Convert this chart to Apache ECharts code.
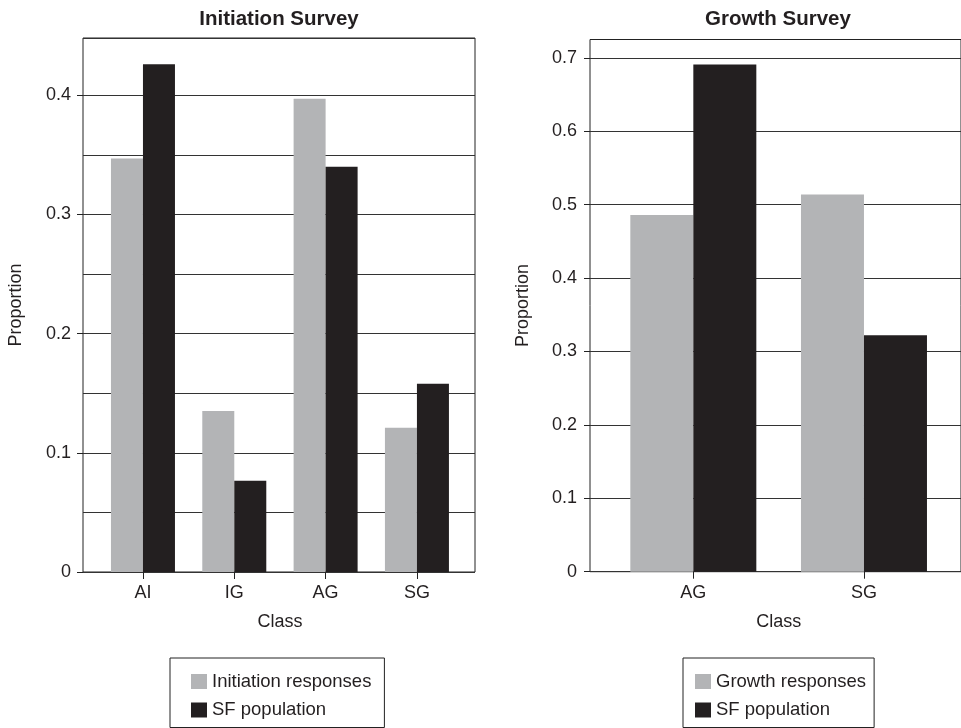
<!DOCTYPE html>
<html>
<head>
<meta charset="utf-8">
<script src="https://cdn.jsdelivr.net/npm/echarts@6/dist/echarts.min.js"></script>
<style>
  html, body { margin: 0; padding: 0; background: #fff; }
  #chart { width: 961px; height: 728px; }
</style>
</head>
<body>
<div id="chart"></div>
<script>
// ---- Data ----
const initiationCategories = ['AI', 'IG', 'AG', 'SG'];
const initiationResponses = [0.347, 0.135, 0.397, 0.121];
const initiationSFPopulation = [0.426, 0.0765, 0.340, 0.158];

const growthCategories = ['AG', 'SG'];
const growthResponses = [0.486, 0.514];
const growthSFPopulation = [0.691, 0.322];

const initiationTicks = [0, 0.1, 0.2, 0.3, 0.4];
const growthTicks = [0, 0.1, 0.2, 0.3, 0.4, 0.5, 0.6, 0.7];

const titles = ['Initiation Survey', 'Growth Survey'];
const xName = 'Class';
const yName = 'Proportion';
const leftLegend = ['Initiation responses', 'SF population'];
const rightLegend = ['Growth responses', 'SF population'];

// ---- Styles ----
const FONT = "'Liberation Sans', Arial, Helvetica, sans-serif";
const GRAY = '#b3b4b6';
const BLACK = '#231f20';
const LINE = '#222';
const fmt = v => (v === 0 ? '0' : v.toFixed(1));

const chart = echarts.init(document.getElementById('chart'), null, { renderer: 'canvas' });

const option = {
  backgroundColor: '#fff',
  animation: false,
  textStyle: { fontFamily: FONT, color: BLACK },
  title: [
    { text: titles[0], left: 279, top: 9, padding: 0, textAlign: 'center',
      textStyle: { fontFamily: FONT, fontSize: 20.5, fontWeight: 'bold', color: BLACK } },
    { text: titles[1], left: 778, top: 9, padding: 0, textAlign: 'center',
      textStyle: { fontFamily: FONT, fontSize: 20.5, fontWeight: 'bold', color: BLACK } }
  ],
  legend: [
    { orient: 'vertical', left: 170, top: 658, data: leftLegend, icon: 'rect',
      itemWidth: 16, itemHeight: 15, itemGap: 9.5, padding: [14, 13, 8, 21],
      borderColor: LINE, borderWidth: 1, selectedMode: false,
      textStyle: { fontFamily: FONT, fontSize: 18.5, color: BLACK } },
    { orient: 'vertical', left: 683, top: 658, data: rightLegend, icon: 'rect',
      itemWidth: 16, itemHeight: 15, itemGap: 9.5, padding: [14, 8, 8, 12],
      borderColor: LINE, borderWidth: 1, selectedMode: false,
      textStyle: { fontFamily: FONT, fontSize: 18.5, color: BLACK } }
  ],
  grid: [
    { left: 83, top: 38, width: 392, height: 534, show: true, borderColor: LINE, borderWidth: 1, backgroundColor: 'transparent' },
    { left: 97.3, top: 38, width: 365.3, height: 534 },
    { left: 590, top: 39.5, width: 390, height: 532.2, show: true, borderColor: LINE, borderWidth: 1, backgroundColor: 'transparent' },
    { left: 608, top: 39.5, width: 341.3, height: 532.2 }
  ],
  xAxis: [
    { gridIndex: 0, type: 'value', min: 0, max: 1, show: false },
    { gridIndex: 1, type: 'category', data: initiationCategories,
      axisLine: { show: false },
      axisTick: { show: true, alignWithLabel: true, length: 7, lineStyle: { color: LINE } },
      axisLabel: { fontFamily: FONT, fontSize: 18, color: BLACK, margin: 12 },
      name: xName, nameLocation: 'middle', nameGap: 41,
      nameTextStyle: { fontFamily: FONT, fontSize: 18, color: BLACK } },
    { gridIndex: 2, type: 'value', min: 0, max: 1, show: false },
    { gridIndex: 3, type: 'category', data: growthCategories,
      axisLine: { show: false },
      axisTick: { show: true, alignWithLabel: true, length: 7, lineStyle: { color: LINE } },
      axisLabel: { fontFamily: FONT, fontSize: 18, color: BLACK, margin: 12 },
      name: xName, nameLocation: 'middle', nameGap: 41,
      nameTextStyle: { fontFamily: FONT, fontSize: 18, color: BLACK } }
  ],
  yAxis: [
    // 0: left frame grid — grid lines every 0.05
    { gridIndex: 0, type: 'value', min: 0, max: 0.448, interval: 0.05,
      axisLine: { show: false }, axisTick: { show: false }, axisLabel: { show: false },
      splitLine: { show: true, lineStyle: { color: '#333', width: 1 } } },
    // 1: left bars (hidden, same scale)
    { gridIndex: 1, type: 'value', min: 0, max: 0.448, show: false, splitLine: { show: false } },
    // 2: right frame grid — ticks, labels, grid lines every 0.1
    { gridIndex: 2, type: 'value', min: 0, max: 0.725, interval: 0.1,
      axisLine: { show: false },
      axisTick: { show: true, length: 6, customValues: growthTicks, lineStyle: { color: LINE } },
      axisLabel: { customValues: growthTicks, formatter: fmt, fontFamily: FONT, fontSize: 18, color: BLACK, margin: 13 },
      splitLine: { show: true, lineStyle: { color: '#333', width: 1 } },
      name: yName, nameLocation: 'middle', nameGap: 58,
      nameTextStyle: { fontFamily: FONT, fontSize: 18, color: BLACK } },
    // 3: right bars (hidden, same scale)
    { gridIndex: 3, type: 'value', min: 0, max: 0.725, show: false, splitLine: { show: false } },
    // 4: left ticks + labels every 0.1
    { gridIndex: 0, type: 'value', position: 'left', offset: 0, min: 0, max: 0.448, interval: 0.1,
      axisLine: { show: false },
      axisTick: { show: true, length: 6, customValues: initiationTicks, lineStyle: { color: LINE } },
      axisLabel: { customValues: initiationTicks, formatter: fmt, fontFamily: FONT, fontSize: 18, color: BLACK, margin: 12 },
      splitLine: { show: false },
      name: yName, nameLocation: 'middle', nameGap: 58,
      nameTextStyle: { fontFamily: FONT, fontSize: 18, color: BLACK } }
  ],
  series: [
    { name: leftLegend[0], type: 'bar', xAxisIndex: 1, yAxisIndex: 1, data: initiationResponses,
      barWidth: 32, barGap: '0%', itemStyle: { color: GRAY } },
    { name: leftLegend[1], type: 'bar', xAxisIndex: 1, yAxisIndex: 1, data: initiationSFPopulation,
      barWidth: 32, barGap: '0%', itemStyle: { color: BLACK } },
    { name: rightLegend[0], type: 'bar', xAxisIndex: 3, yAxisIndex: 3, data: growthResponses,
      barWidth: 63, barGap: '0%', itemStyle: { color: GRAY } },
    { name: rightLegend[1], type: 'bar', xAxisIndex: 3, yAxisIndex: 3, data: growthSFPopulation,
      barWidth: 63, barGap: '0%', itemStyle: { color: BLACK } }
  ]
};

chart.setOption(option);
</script>
</body>
</html>
